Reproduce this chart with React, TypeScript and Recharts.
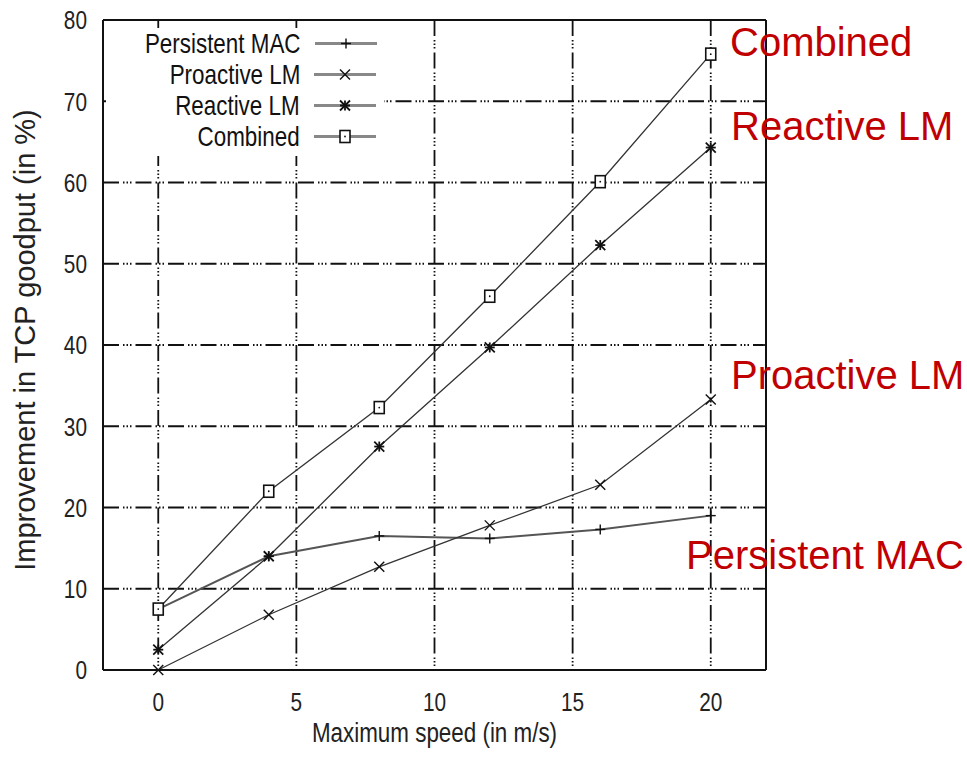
import React from 'react';
import { LineChart, Line, XAxis, YAxis, CartesianGrid, Legend, ReferenceLine } from 'recharts';

// speeds (m/s) on the x axis
const speeds = [0, 4, 8, 12, 16, 20];

// improvement in TCP goodput (%) per scheme
const persistentMac = [7.5, 14, 16.5, 16.2, 17.3, 19];
const proactiveLm = [0, 6.8, 12.7, 17.8, 22.8, 33.3];
const reactiveLm = [2.5, 14, 27.5, 39.7, 52.3, 64.3];
const combined = [7.5, 22, 32.3, 46, 60.1, 75.8];

const xTicks = [0, 5, 10, 15, 20];
const yTicks = [0, 10, 20, 30, 40, 50, 60, 70, 80];

const data = speeds.map((s, i) => ({
  speed: s,
  persistent: persistentMac[i],
  proactive: proactiveLm[i],
  reactive: reactiveLm[i],
  combined: combined[i],
}));

const FONT = '"Liberation Sans", Arial, sans-serif';
const NARROW = 0.8; // the original uses a narrow helvetica
const LINE = '#333';
const RED = '#c00000';

// marker shapes, drawn around the point
const Marker = ({ kind, cx, cy }: { kind: string; cx: number; cy: number }) => {
  if (cx == null || cy == null) return null;
  const s = 5;
  if (kind === 'plus') {
    return (
      <g stroke="#111" strokeWidth={1.4}>
        <line x1={cx - s} y1={cy} x2={cx + s} y2={cy} />
        <line x1={cx} y1={cy - s} x2={cx} y2={cy + s} />
      </g>
    );
  }
  if (kind === 'cross') {
    return (
      <g stroke="#111" strokeWidth={1.4}>
        <line x1={cx - s} y1={cy - s} x2={cx + s} y2={cy + s} />
        <line x1={cx - s} y1={cy + s} x2={cx + s} y2={cy - s} />
      </g>
    );
  }
  if (kind === 'star') {
    return (
      <g stroke="#111" strokeWidth={1.8}>
        <line x1={cx - s} y1={cy - s} x2={cx + s} y2={cy + s} />
        <line x1={cx - s} y1={cy + s} x2={cx + s} y2={cy - s} />
        <line x1={cx} y1={cy - s} x2={cx} y2={cy + s} />
        <line x1={cx - s} y1={cy} x2={cx + s} y2={cy} />
      </g>
    );
  }
  return (
    <g>
      <rect x={cx - 5} y={cy - 6} width={10} height={12} fill="#fff" stroke="#111" strokeWidth={1.6} />
      <circle cx={cx} cy={cy} r={0.9} fill="#111" />
    </g>
  );
};

const series = [
  { key: 'persistent', name: 'Persistent MAC', marker: 'plus', width: 2, color: '#555' },
  { key: 'proactive', name: 'Proactive LM', marker: 'cross', width: 1.3, color: LINE },
  { key: 'reactive', name: 'Reactive LM', marker: 'star', width: 1.3, color: LINE },
  { key: 'combined', name: 'Combined', marker: 'square', width: 1.3, color: LINE },
];

// narrow tick labels
const XTick = ({ x, y, payload }: any) => (
  <text
    transform={`translate(${x},${y}) scale(${NARROW},1)`}
    textAnchor="middle"
    dy="0.71em"
    fill="#222"
    fontSize={26}
    fontFamily={FONT}
  >
    {payload.value}
  </text>
);

const YTick = ({ x, y, payload }: any) => (
  <text
    transform={`translate(${x},${y}) scale(${NARROW},1)`}
    textAnchor="end"
    dy="0.36em"
    fill="#222"
    fontSize={26}
    fontFamily={FONT}
  >
    {payload.value}
  </text>
);

const XLabel = ({ viewBox }: any) => {
  const cx = viewBox.x + viewBox.width / 2;
  const by = viewBox.y + 72;
  return (
    <text transform={`translate(${cx},${by}) scale(${NARROW},1)`} textAnchor="middle" fill="#222" fontSize={28} fontFamily={FONT}>
      Maximum speed (in m/s)
    </text>
  );
};

const YLabel = ({ viewBox }: any) => {
  const bx = viewBox.x + 35;
  const cy = viewBox.y + viewBox.height / 2 - 5;
  return (
    <text transform={`translate(${bx},${cy}) rotate(-90)`} textAnchor="middle" fill="#222" fontSize={29} fontFamily={FONT}>
      Improvement in TCP goodput (in %)
    </text>
  );
};

const LegendBox = () => (
  <div style={{ background: '#fff', width: 278, height: 128, fontFamily: FONT, fontSize: 28, color: '#111' }}>
    {series.map((s) => (
      <div key={s.key} style={{ display: 'flex', alignItems: 'center', height: 31 }}>
        <div style={{ width: 196, display: 'flex', justifyContent: 'flex-end', lineHeight: '31px', whiteSpace: 'nowrap' }}>
          <span style={{ display: 'inline-block', transform: `scaleX(${NARROW})`, transformOrigin: 'right center' }}>{s.name}</span>
        </div>
        <svg width={70} height={31} style={{ marginLeft: 14, flexShrink: 0 }}>
          <line x1={0} y1={15.5} x2={62} y2={15.5} stroke="#888" strokeWidth={3} />
          <Marker kind={s.marker} cx={31} cy={15.5} />
        </svg>
      </div>
    ))}
  </div>
);

const annotations = [
  { text: 'Combined', left: 730, top: 22 },
  { text: 'Reactive LM', left: 731, top: 106 },
  { text: 'Proactive LM', left: 731, top: 355 },
  { text: 'Persistent MAC', left: 686, top: 535 },
];

export default function App() {
  return (
    <div style={{ position: 'absolute', left: 0, top: 0, width: 967, height: 764, background: '#fff' }}>
      <LineChart
        width={967}
        height={764}
        data={data}
        margin={{ top: 20, right: 201, bottom: 0, left: 0 }}
      >
        <CartesianGrid
          stroke="#111"
          strokeWidth={1.8}
          strokeDasharray="16 4 1.5 2 1.5 2 1.5 4"
          horizontalValues={yTicks}
          verticalValues={xTicks}
        />
        <XAxis
          dataKey="speed"
          type="number"
          domain={[-2, 22]}
          ticks={xTicks}
          tickSize={0}
          tickMargin={23}
          height={94}
          axisLine={{ stroke: '#111', strokeWidth: 2 }}
          tick={<XTick />}
          label={<XLabel />}
        />
        <YAxis
          type="number"
          domain={[0, 80]}
          ticks={yTicks}
          width={103}
          tickSize={0}
          tickMargin={16}
          axisLine={{ stroke: '#111', strokeWidth: 2 }}
          tick={<YTick />}
          label={<YLabel />}
        />
        <ReferenceLine y={80} stroke="#111" strokeWidth={2} />
        <ReferenceLine x={22} stroke="#111" strokeWidth={2} />
        {series.map((s) => (
          <Line
            key={s.key}
            dataKey={s.key}
            name={s.name}
            type="linear"
            stroke={s.color}
            strokeWidth={s.width}
            isAnimationActive={false}
            dot={(p: any) => <Marker key={`${s.key}-${p.index}`} kind={s.marker} cx={p.cx} cy={p.cy} />}
            activeDot={false}
          />
        ))}
        <Legend
          layout="vertical"
          verticalAlign="middle"
          align="center"
          wrapperStyle={{ top: 28, left: 106, width: 278 }}
          content={() => <LegendBox />}
        />
      </LineChart>
      {annotations.map((a) => (
        <div
          key={a.text}
          style={{ position: 'absolute', left: a.left, top: a.top, fontFamily: FONT, fontSize: 40, lineHeight: '40px', color: RED, whiteSpace: 'nowrap' }}
        >
          {a.text}
        </div>
      ))}
    </div>
  );
}
